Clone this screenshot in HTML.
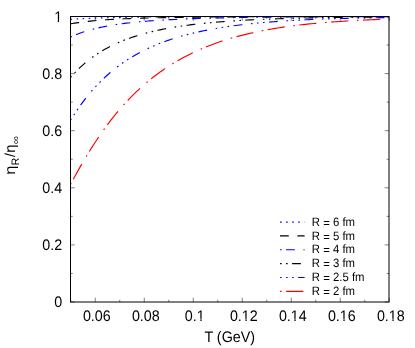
<!DOCTYPE html>
<html><head><meta charset="utf-8"><title>chart</title>
<style>
html,body{margin:0;padding:0;background:#fff;}
body{width:415px;height:348px;overflow:hidden;}
svg{display:block;font-family:"Liberation Sans",sans-serif;will-change:transform;text-rendering:geometricPrecision;}
</style></head><body>
<svg width="415" height="348" viewBox="0 0 415 348">
<rect width="415" height="348" fill="#fff"/>
<defs><clipPath id="cp"><rect x="70.50" y="16.50" width="318.50" height="285.50"/></clipPath></defs>
<g clip-path="url(#cp)">
<polyline points="70.50,19.37 72.49,19.23 74.48,19.09 76.47,18.97 78.46,18.85 80.45,18.73 82.44,18.63 84.43,18.53 86.42,18.43 88.42,18.35 90.41,18.26 92.40,18.18 94.39,18.11 96.38,18.04 98.37,17.97 100.36,17.91 102.35,17.85 104.34,17.79 106.33,17.74 108.32,17.69 110.31,17.64 112.30,17.59 114.29,17.55 116.28,17.51 118.28,17.47 120.27,17.43 122.26,17.39 124.25,17.36 126.24,17.33 128.23,17.29 130.22,17.26 132.21,17.24 134.20,17.21 136.19,17.18 138.18,17.16 140.17,17.13 142.16,17.11 144.15,17.09 146.14,17.07 148.13,17.05 150.12,17.03 152.12,17.01 154.11,16.99 156.10,16.97 158.09,16.96 160.08,16.94 162.07,16.93 164.06,16.91 166.05,16.90 168.04,16.89 170.03,16.87 172.02,16.86 174.01,16.85 176.00,16.84 177.99,16.83 179.98,16.81 181.97,16.80 183.97,16.79 185.96,16.78 187.95,16.78 189.94,16.77 191.93,16.76 193.92,16.75 195.91,16.74 197.90,16.73 199.89,16.73 201.88,16.72 203.87,16.71 205.86,16.70 207.85,16.70 209.84,16.69 211.83,16.69 213.83,16.68 215.82,16.67 217.81,16.67 219.80,16.66 221.79,16.66 223.78,16.65 225.77,16.65 227.76,16.64 229.75,16.64 231.74,16.64 233.73,16.63 235.72,16.63 237.71,16.62 239.70,16.62 241.69,16.62 243.68,16.61 245.68,16.61 247.67,16.60 249.66,16.60 251.65,16.60 253.64,16.60 255.63,16.59 257.62,16.59 259.61,16.59 261.60,16.58 263.59,16.58 265.58,16.58 267.57,16.58 269.56,16.57 271.55,16.57 273.54,16.57 275.53,16.57 277.52,16.57 279.52,16.56 281.51,16.56 283.50,16.56 285.49,16.56 287.48,16.56 289.47,16.55 291.46,16.55 293.45,16.55 295.44,16.55 297.43,16.55 299.42,16.55 301.41,16.55 303.40,16.54 305.39,16.54 307.38,16.54 309.38,16.54 311.37,16.54 313.36,16.54 315.35,16.54 317.34,16.54 319.33,16.53 321.32,16.53 323.31,16.53 325.30,16.53 327.29,16.53 329.28,16.53 331.27,16.53 333.26,16.53 335.25,16.53 337.24,16.53 339.23,16.53 341.23,16.53 343.22,16.52 345.21,16.52 347.20,16.52 349.19,16.52 351.18,16.52 353.17,16.52 355.16,16.52 357.15,16.52 359.14,16.52 361.13,16.52 363.12,16.52 365.11,16.52 367.10,16.52 369.09,16.52 371.08,16.52 373.08,16.52 375.07,16.52 377.06,16.52 379.05,16.51 381.04,16.51 383.03,16.51 385.02,16.51 387.01,16.51 389.00,16.51" fill="none" stroke="#0000ff" stroke-width="1.15" stroke-dasharray="1.60 4.48"/>
<polyline points="70.50,23.88 72.49,23.52 74.48,23.19 76.47,22.87 78.46,22.58 80.45,22.30 82.44,22.04 84.43,21.79 86.42,21.55 88.42,21.33 90.41,21.12 92.40,20.92 94.39,20.73 96.38,20.55 98.37,20.38 100.36,20.22 102.35,20.07 104.34,19.92 106.33,19.79 108.32,19.66 110.31,19.53 112.30,19.41 114.29,19.30 116.28,19.19 118.28,19.09 120.27,18.99 122.26,18.89 124.25,18.80 126.24,18.72 128.23,18.64 130.22,18.56 132.21,18.48 134.20,18.41 136.19,18.34 138.18,18.28 140.17,18.21 142.16,18.15 144.15,18.09 146.14,18.04 148.13,17.98 150.12,17.93 152.12,17.88 154.11,17.84 156.10,17.79 158.09,17.75 160.08,17.70 162.07,17.66 164.06,17.63 166.05,17.59 168.04,17.55 170.03,17.52 172.02,17.48 174.01,17.45 176.00,17.42 177.99,17.39 179.98,17.36 181.97,17.33 183.97,17.31 185.96,17.28 187.95,17.25 189.94,17.23 191.93,17.21 193.92,17.18 195.91,17.16 197.90,17.14 199.89,17.12 201.88,17.10 203.87,17.08 205.86,17.06 207.85,17.05 209.84,17.03 211.83,17.01 213.83,17.00 215.82,16.98 217.81,16.97 219.80,16.95 221.79,16.94 223.78,16.92 225.77,16.91 227.76,16.90 229.75,16.89 231.74,16.87 233.73,16.86 235.72,16.85 237.71,16.84 239.70,16.83 241.69,16.82 243.68,16.81 245.68,16.80 247.67,16.79 249.66,16.78 251.65,16.77 253.64,16.77 255.63,16.76 257.62,16.75 259.61,16.74 261.60,16.73 263.59,16.73 265.58,16.72 267.57,16.71 269.56,16.71 271.55,16.70 273.54,16.69 275.53,16.69 277.52,16.68 279.52,16.68 281.51,16.67 283.50,16.67 285.49,16.66 287.48,16.66 289.47,16.65 291.46,16.65 293.45,16.64 295.44,16.64 297.43,16.64 299.42,16.63 301.41,16.63 303.40,16.62 305.39,16.62 307.38,16.62 309.38,16.61 311.37,16.61 313.36,16.61 315.35,16.60 317.34,16.60 319.33,16.60 321.32,16.59 323.31,16.59 325.30,16.59 327.29,16.59 329.28,16.58 331.27,16.58 333.26,16.58 335.25,16.58 337.24,16.57 339.23,16.57 341.23,16.57 343.22,16.57 345.21,16.57 347.20,16.56 349.19,16.56 351.18,16.56 353.17,16.56 355.16,16.56 357.15,16.56 359.14,16.55 361.13,16.55 363.12,16.55 365.11,16.55 367.10,16.55 369.09,16.55 371.08,16.55 373.08,16.54 375.07,16.54 377.06,16.54 379.05,16.54 381.04,16.54 383.03,16.54 385.02,16.54 387.01,16.54 389.00,16.54" fill="none" stroke="#000000" stroke-width="1.15" stroke-dasharray="8.75 8.70"/>
<polyline points="70.50,37.10 72.49,36.20 74.48,35.34 76.47,34.52 78.46,33.75 80.45,33.02 82.44,32.32 84.43,31.66 86.42,31.04 88.42,30.44 90.41,29.87 92.40,29.34 94.39,28.82 96.38,28.34 98.37,27.87 100.36,27.43 102.35,27.01 104.34,26.60 106.33,26.22 108.32,25.85 110.31,25.50 112.30,25.17 114.29,24.85 116.28,24.54 118.28,24.25 120.27,23.97 122.26,23.70 124.25,23.44 126.24,23.19 128.23,22.96 130.22,22.73 132.21,22.51 134.20,22.30 136.19,22.10 138.18,21.91 140.17,21.73 142.16,21.55 144.15,21.38 146.14,21.21 148.13,21.05 150.12,20.90 152.12,20.76 154.11,20.62 156.10,20.48 158.09,20.35 160.08,20.22 162.07,20.10 164.06,19.98 166.05,19.87 168.04,19.76 170.03,19.66 172.02,19.56 174.01,19.46 176.00,19.37 177.99,19.27 179.98,19.19 181.97,19.10 183.97,19.02 185.96,18.94 187.95,18.86 189.94,18.79 191.93,18.72 193.92,18.65 195.91,18.58 197.90,18.52 199.89,18.45 201.88,18.39 203.87,18.34 205.86,18.28 207.85,18.22 209.84,18.17 211.83,18.12 213.83,18.07 215.82,18.02 217.81,17.98 219.80,17.93 221.79,17.89 223.78,17.84 225.77,17.80 227.76,17.76 229.75,17.72 231.74,17.69 233.73,17.65 235.72,17.62 237.71,17.58 239.70,17.55 241.69,17.52 243.68,17.49 245.68,17.46 247.67,17.43 249.66,17.40 251.65,17.37 253.64,17.35 255.63,17.32 257.62,17.30 259.61,17.27 261.60,17.25 263.59,17.23 265.58,17.21 267.57,17.18 269.56,17.16 271.55,17.14 273.54,17.12 275.53,17.11 277.52,17.09 279.52,17.07 281.51,17.05 283.50,17.04 285.49,17.02 287.48,17.01 289.47,16.99 291.46,16.98 293.45,16.96 295.44,16.95 297.43,16.94 299.42,16.92 301.41,16.91 303.40,16.90 305.39,16.89 307.38,16.87 309.38,16.86 311.37,16.85 313.36,16.84 315.35,16.83 317.34,16.82 319.33,16.81 321.32,16.80 323.31,16.80 325.30,16.79 327.29,16.78 329.28,16.77 331.27,16.76 333.26,16.76 335.25,16.75 337.24,16.74 339.23,16.73 341.23,16.73 343.22,16.72 345.21,16.72 347.20,16.71 349.19,16.70 351.18,16.70 353.17,16.69 355.16,16.69 357.15,16.68 359.14,16.68 361.13,16.67 363.12,16.67 365.11,16.66 367.10,16.66 369.09,16.65 371.08,16.65 373.08,16.65 375.07,16.64 377.06,16.64 379.05,16.63 381.04,16.63 383.03,16.63 385.02,16.62 387.01,16.62 389.00,16.62" fill="none" stroke="#0000ff" stroke-width="1.15" stroke-dasharray="1.60 4.45 8.75 8.70"/>
<polyline points="70.50,77.42 72.49,75.18 74.48,73.04 76.47,70.98 78.46,69.01 80.45,67.12 82.44,65.31 84.43,63.57 86.42,61.90 88.42,60.30 90.41,58.77 92.40,57.29 94.39,55.88 96.38,54.52 98.37,53.21 100.36,51.95 102.35,50.75 104.34,49.59 106.33,48.47 108.32,47.40 110.31,46.37 112.30,45.38 114.29,44.42 116.28,43.50 118.28,42.62 120.27,41.76 122.26,40.94 124.25,40.15 126.24,39.39 128.23,38.65 130.22,37.94 132.21,37.26 134.20,36.60 136.19,35.97 138.18,35.35 140.17,34.76 142.16,34.19 144.15,33.64 146.14,33.10 148.13,32.59 150.12,32.09 152.12,31.61 154.11,31.14 156.10,30.69 158.09,30.26 160.08,29.84 162.07,29.43 164.06,29.04 166.05,28.66 168.04,28.29 170.03,27.94 172.02,27.59 174.01,27.26 176.00,26.93 177.99,26.62 179.98,26.32 181.97,26.02 183.97,25.74 185.96,25.46 187.95,25.20 189.94,24.94 191.93,24.69 193.92,24.44 195.91,24.21 197.90,23.98 199.89,23.76 201.88,23.54 203.87,23.34 205.86,23.13 207.85,22.94 209.84,22.75 211.83,22.57 213.83,22.39 215.82,22.21 217.81,22.05 219.80,21.88 221.79,21.72 223.78,21.57 225.77,21.42 227.76,21.28 229.75,21.14 231.74,21.00 233.73,20.87 235.72,20.74 237.71,20.62 239.70,20.50 241.69,20.38 243.68,20.27 245.68,20.15 247.67,20.05 249.66,19.94 251.65,19.84 253.64,19.75 255.63,19.65 257.62,19.56 259.61,19.47 261.60,19.38 263.59,19.30 265.58,19.22 267.57,19.14 269.56,19.06 271.55,18.99 273.54,18.91 275.53,18.84 277.52,18.78 279.52,18.71 281.51,18.65 283.50,18.58 285.49,18.52 287.48,18.46 289.47,18.41 291.46,18.35 293.45,18.30 295.44,18.25 297.43,18.20 299.42,18.15 301.41,18.10 303.40,18.05 305.39,18.01 307.38,17.97 309.38,17.92 311.37,17.88 313.36,17.84 315.35,17.81 317.34,17.77 319.33,17.73 321.32,17.70 323.31,17.66 325.30,17.63 327.29,17.60 329.28,17.57 331.27,17.54 333.26,17.51 335.25,17.48 337.24,17.45 339.23,17.43 341.23,17.40 343.22,17.38 345.21,17.35 347.20,17.33 349.19,17.31 351.18,17.28 353.17,17.26 355.16,17.24 357.15,17.22 359.14,17.20 361.13,17.18 363.12,17.16 365.11,17.15 367.10,17.13 369.09,17.11 371.08,17.09 373.08,17.08 375.07,17.06 377.06,17.05 379.05,17.03 381.04,17.02 383.03,17.01 385.02,16.99 387.01,16.98 389.00,16.97" fill="none" stroke="#000000" stroke-width="1.15" stroke-dasharray="1.60 4.45 1.60 4.45 8.75 8.70"/>
<polyline points="70.50,120.24 72.49,117.06 74.48,113.98 76.47,110.99 78.46,108.09 80.45,105.29 82.44,102.58 84.43,99.95 86.42,97.40 88.42,94.94 90.41,92.55 92.40,90.24 94.39,88.01 96.38,85.85 98.37,83.75 100.36,81.73 102.35,79.77 104.34,77.87 106.33,76.03 108.32,74.25 110.31,72.53 112.30,70.86 114.29,69.25 116.28,67.69 118.28,66.17 120.27,64.71 122.26,63.29 124.25,61.91 126.24,60.58 128.23,59.29 130.22,58.04 132.21,56.83 134.20,55.66 136.19,54.52 138.18,53.42 140.17,52.35 142.16,51.31 144.15,50.31 146.14,49.33 148.13,48.39 150.12,47.47 152.12,46.58 154.11,45.72 156.10,44.88 158.09,44.07 160.08,43.28 162.07,42.52 164.06,41.78 166.05,41.06 168.04,40.36 170.03,39.68 172.02,39.02 174.01,38.39 176.00,37.76 177.99,37.16 179.98,36.58 181.97,36.01 183.97,35.46 185.96,34.92 187.95,34.40 189.94,33.89 191.93,33.40 193.92,32.92 195.91,32.46 197.90,32.01 199.89,31.57 201.88,31.14 203.87,30.73 205.86,30.33 207.85,29.94 209.84,29.56 211.83,29.19 213.83,28.83 215.82,28.48 217.81,28.14 219.80,27.81 221.79,27.49 223.78,27.18 225.77,26.88 227.76,26.59 229.75,26.30 231.74,26.02 233.73,25.75 235.72,25.49 237.71,25.24 239.70,24.99 241.69,24.75 243.68,24.51 245.68,24.29 247.67,24.07 249.66,23.85 251.65,23.64 253.64,23.44 255.63,23.24 257.62,23.05 259.61,22.87 261.60,22.69 263.59,22.51 265.58,22.34 267.57,22.17 269.56,22.01 271.55,21.86 273.54,21.70 275.53,21.56 277.52,21.41 279.52,21.27 281.51,21.14 283.50,21.01 285.49,20.88 287.48,20.76 289.47,20.64 291.46,20.52 293.45,20.41 295.44,20.30 297.43,20.19 299.42,20.09 301.41,19.98 303.40,19.89 305.39,19.79 307.38,19.70 309.38,19.61 311.37,19.52 313.36,19.44 315.35,19.36 317.34,19.28 319.33,19.20 321.32,19.12 323.31,19.05 325.30,18.98 327.29,18.91 329.28,18.85 331.27,18.78 333.26,18.72 335.25,18.66 337.24,18.60 339.23,18.54 341.23,18.48 343.22,18.43 345.21,18.38 347.20,18.33 349.19,18.28 351.18,18.23 353.17,18.18 355.16,18.14 357.15,18.09 359.14,18.05 361.13,18.01 363.12,17.97 365.11,17.93 367.10,17.89 369.09,17.85 371.08,17.82 373.08,17.78 375.07,17.75 377.06,17.72 379.05,17.69 381.04,17.65 383.03,17.62 385.02,17.60 387.01,17.57 389.00,17.54" fill="none" stroke="#0000ff" stroke-width="1.15" stroke-dasharray="1.60 4.45 1.60 4.45 1.60 4.45 8.75 8.70"/>
<polyline points="70.50,184.47 72.49,180.74 74.48,177.07 76.47,173.45 78.46,169.88 80.45,166.37 82.44,162.92 84.43,159.53 86.42,156.20 88.42,152.93 90.41,149.72 92.40,146.57 94.39,143.48 96.38,140.45 98.37,137.49 100.36,134.58 102.35,131.74 104.34,128.95 106.33,126.23 108.32,123.56 110.31,120.95 112.30,118.40 114.29,115.91 116.28,113.47 118.28,111.08 120.27,108.75 122.26,106.48 124.25,104.25 126.24,102.08 128.23,99.96 130.22,97.89 132.21,95.86 134.20,93.88 136.19,91.95 138.18,90.07 140.17,88.23 142.16,86.43 144.15,84.68 146.14,82.97 148.13,81.30 150.12,79.66 152.12,78.07 154.11,76.52 156.10,75.00 158.09,73.52 160.08,72.08 162.07,70.67 164.06,69.29 166.05,67.95 168.04,66.64 170.03,65.36 172.02,64.11 174.01,62.90 176.00,61.71 177.99,60.55 179.98,59.42 181.97,58.32 183.97,57.24 185.96,56.19 187.95,55.17 189.94,54.17 191.93,53.20 193.92,52.25 195.91,51.32 197.90,50.42 199.89,49.53 201.88,48.67 203.87,47.83 205.86,47.02 207.85,46.22 209.84,45.44 211.83,44.68 213.83,43.94 215.82,43.22 217.81,42.52 219.80,41.83 221.79,41.16 223.78,40.51 225.77,39.87 227.76,39.26 229.75,38.65 231.74,38.06 233.73,37.49 235.72,36.93 237.71,36.39 239.70,35.86 241.69,35.34 243.68,34.83 245.68,34.34 247.67,33.87 249.66,33.40 251.65,32.95 253.64,32.50 255.63,32.07 257.62,31.66 259.61,31.25 261.60,30.85 263.59,30.46 265.58,30.09 267.57,29.72 269.56,29.36 271.55,29.02 273.54,28.68 275.53,28.35 277.52,28.03 279.52,27.72 281.51,27.41 283.50,27.12 285.49,26.83 287.48,26.55 289.47,26.28 291.46,26.01 293.45,25.76 295.44,25.51 297.43,25.26 299.42,25.03 301.41,24.80 303.40,24.57 305.39,24.35 307.38,24.14 309.38,23.94 311.37,23.74 313.36,23.54 315.35,23.35 317.34,23.17 319.33,22.99 321.32,22.82 323.31,22.65 325.30,22.48 327.29,22.32 329.28,22.17 331.27,22.02 333.26,21.87 335.25,21.73 337.24,21.59 339.23,21.46 341.23,21.32 343.22,21.20 345.21,21.07 347.20,20.95 349.19,20.84 351.18,20.72 353.17,20.61 355.16,20.51 357.15,20.40 359.14,20.30 361.13,20.20 363.12,20.11 365.11,20.01 367.10,19.92 369.09,19.83 371.08,19.75 373.08,19.67 375.07,19.59 377.06,19.51 379.05,19.43 381.04,19.36 383.03,19.28 385.02,19.21 387.01,19.15 389.00,19.08" fill="none" stroke="#ff0000" stroke-width="1.15" stroke-dasharray="1.60 4.45 17.30 8.60"/>
</g>
<g stroke="#000" stroke-width="0.5" fill="none"><path d="M70.50 302.00h4.3 M389.00 302.00h-4.3"/><path d="M70.50 273.45h2.3 M389.00 273.45h-2.3"/><path d="M70.50 244.90h4.3 M389.00 244.90h-4.3"/><path d="M70.50 216.35h2.3 M389.00 216.35h-2.3"/><path d="M70.50 187.80h4.3 M389.00 187.80h-4.3"/><path d="M70.50 159.25h2.3 M389.00 159.25h-2.3"/><path d="M70.50 130.70h4.3 M389.00 130.70h-4.3"/><path d="M70.50 102.15h2.3 M389.00 102.15h-2.3"/><path d="M70.50 73.60h4.3 M389.00 73.60h-4.3"/><path d="M70.50 45.05h2.3 M389.00 45.05h-2.3"/><path d="M70.50 16.50h4.3 M389.00 16.50h-4.3"/><path d="M70.75 302.00v-2.3 M70.75 16.50v2.3"/><path d="M95.25 302.00v-4.3 M95.25 16.50v4.3"/><path d="M119.75 302.00v-2.3 M119.75 16.50v2.3"/><path d="M144.25 302.00v-4.3 M144.25 16.50v4.3"/><path d="M168.75 302.00v-2.3 M168.75 16.50v2.3"/><path d="M193.25 302.00v-4.3 M193.25 16.50v4.3"/><path d="M217.75 302.00v-2.3 M217.75 16.50v2.3"/><path d="M242.25 302.00v-4.3 M242.25 16.50v4.3"/><path d="M266.75 302.00v-2.3 M266.75 16.50v2.3"/><path d="M291.25 302.00v-4.3 M291.25 16.50v4.3"/><path d="M315.75 302.00v-2.3 M315.75 16.50v2.3"/><path d="M340.25 302.00v-4.3 M340.25 16.50v4.3"/><path d="M364.75 302.00v-2.3 M364.75 16.50v2.3"/><path d="M389.25 302.00v-4.3 M389.25 16.50v4.3"/></g>
<rect x="70.50" y="16.50" width="318.50" height="285.50" fill="none" stroke="#000" stroke-width="1"/>
<g font-size="14.3" fill="#000"><text transform="translate(62.1,307.00) scale(1,1.065)" text-anchor="end">0</text><text transform="translate(62.1,250.00) scale(1,1.065)" text-anchor="end">0.2</text><text transform="translate(62.1,193.00) scale(1,1.065)" text-anchor="end">0.4</text><text transform="translate(62.1,136.00) scale(1,1.065)" text-anchor="end">0.6</text><text transform="translate(62.1,79.00) scale(1,1.065)" text-anchor="end">0.8</text><text transform="translate(62.1,22.00) scale(1,1.065)" text-anchor="end">1</text><text transform="translate(96.80,321) scale(1,1.065)" text-anchor="middle">0.06</text><text transform="translate(145.80,321) scale(1,1.065)" text-anchor="middle">0.08</text><text transform="translate(194.80,321) scale(1,1.065)" text-anchor="middle">0.1</text><text transform="translate(243.80,321) scale(1,1.065)" text-anchor="middle">0.12</text><text transform="translate(292.80,321) scale(1,1.065)" text-anchor="middle">0.14</text><text transform="translate(341.80,321) scale(1,1.065)" text-anchor="middle">0.16</text><text transform="translate(390.80,321) scale(1,1.065)" text-anchor="middle">0.18</text></g><g fill="#fff"><rect x="54.65" y="19.60" width="3.10" height="3"/><rect x="59.01" y="19.60" width="3.00" height="3"/><rect x="197.29" y="318.60" width="3.10" height="3"/><rect x="201.65" y="318.60" width="3.00" height="3"/><rect x="242.31" y="318.60" width="3.10" height="3"/><rect x="246.67" y="318.60" width="3.00" height="3"/><rect x="291.31" y="318.60" width="3.10" height="3"/><rect x="295.67" y="318.60" width="3.00" height="3"/><rect x="340.31" y="318.60" width="3.10" height="3"/><rect x="344.67" y="318.60" width="3.00" height="3"/><rect x="389.31" y="318.60" width="3.10" height="3"/><rect x="393.67" y="318.60" width="3.00" height="3"/></g>
<path d="M280 222.10H304.6" stroke="#0000ff" stroke-width="1.15" stroke-dasharray="1.60 4.48" fill="none"/><text transform="translate(311.85,225.70) scale(1,1.065)" font-size="11.35">R <tspan dy="1">=</tspan><tspan dy="-1"> 6 fm</tspan></text><path d="M280 235.94H304.6" stroke="#000000" stroke-width="1.15" stroke-dasharray="8.75 8.70" fill="none"/><text transform="translate(311.85,239.54) scale(1,1.065)" font-size="11.35">R <tspan dy="1">=</tspan><tspan dy="-1"> 5 fm</tspan></text><path d="M280 249.78H304.6" stroke="#0000ff" stroke-width="1.15" stroke-dasharray="1.60 4.45 8.75 8.70" fill="none"/><text transform="translate(311.85,253.38) scale(1,1.065)" font-size="11.35">R <tspan dy="1">=</tspan><tspan dy="-1"> 4 fm</tspan></text><path d="M280 263.62H304.6" stroke="#000000" stroke-width="1.15" stroke-dasharray="1.60 4.45 1.60 4.45 8.75 8.70" fill="none"/><text transform="translate(311.85,267.22) scale(1,1.065)" font-size="11.35">R <tspan dy="1">=</tspan><tspan dy="-1"> 3 fm</tspan></text><path d="M280 277.46H304.6" stroke="#0000ff" stroke-width="1.15" stroke-dasharray="1.60 4.45 1.60 4.45 1.60 4.45 8.75 8.70" fill="none"/><text transform="translate(311.85,281.06) scale(1,1.065)" font-size="11.35">R <tspan dy="1">=</tspan><tspan dy="-1"> 2.5 fm</tspan></text><path d="M280 291.30H304.6" stroke="#ff0000" stroke-width="1.15" stroke-dasharray="1.60 4.45 17.30 8.60" fill="none"/><text transform="translate(311.85,294.90) scale(1,1.065)" font-size="11.35">R <tspan dy="1">=</tspan><tspan dy="-1"> 2 fm</tspan></text>
<text transform="translate(229.75,342) scale(1,1.065)" font-size="14.35" text-anchor="middle">T (GeV)</text>
<g transform="translate(14.8,174) rotate(-90)" font-size="14.5">
<text transform="translate(-0.65,0) scale(1.14,1)">η</text><text x="8.6" y="4.4" font-size="10.8">R</text><text x="16.95" y="0" font-size="14.3">/</text><text transform="translate(21.15,0) scale(1.03,1)">η</text><text transform="translate(29.7,3.8) scale(1.12,0.97)" font-size="10.3">∞</text>
</g>
</svg>
</body></html>
